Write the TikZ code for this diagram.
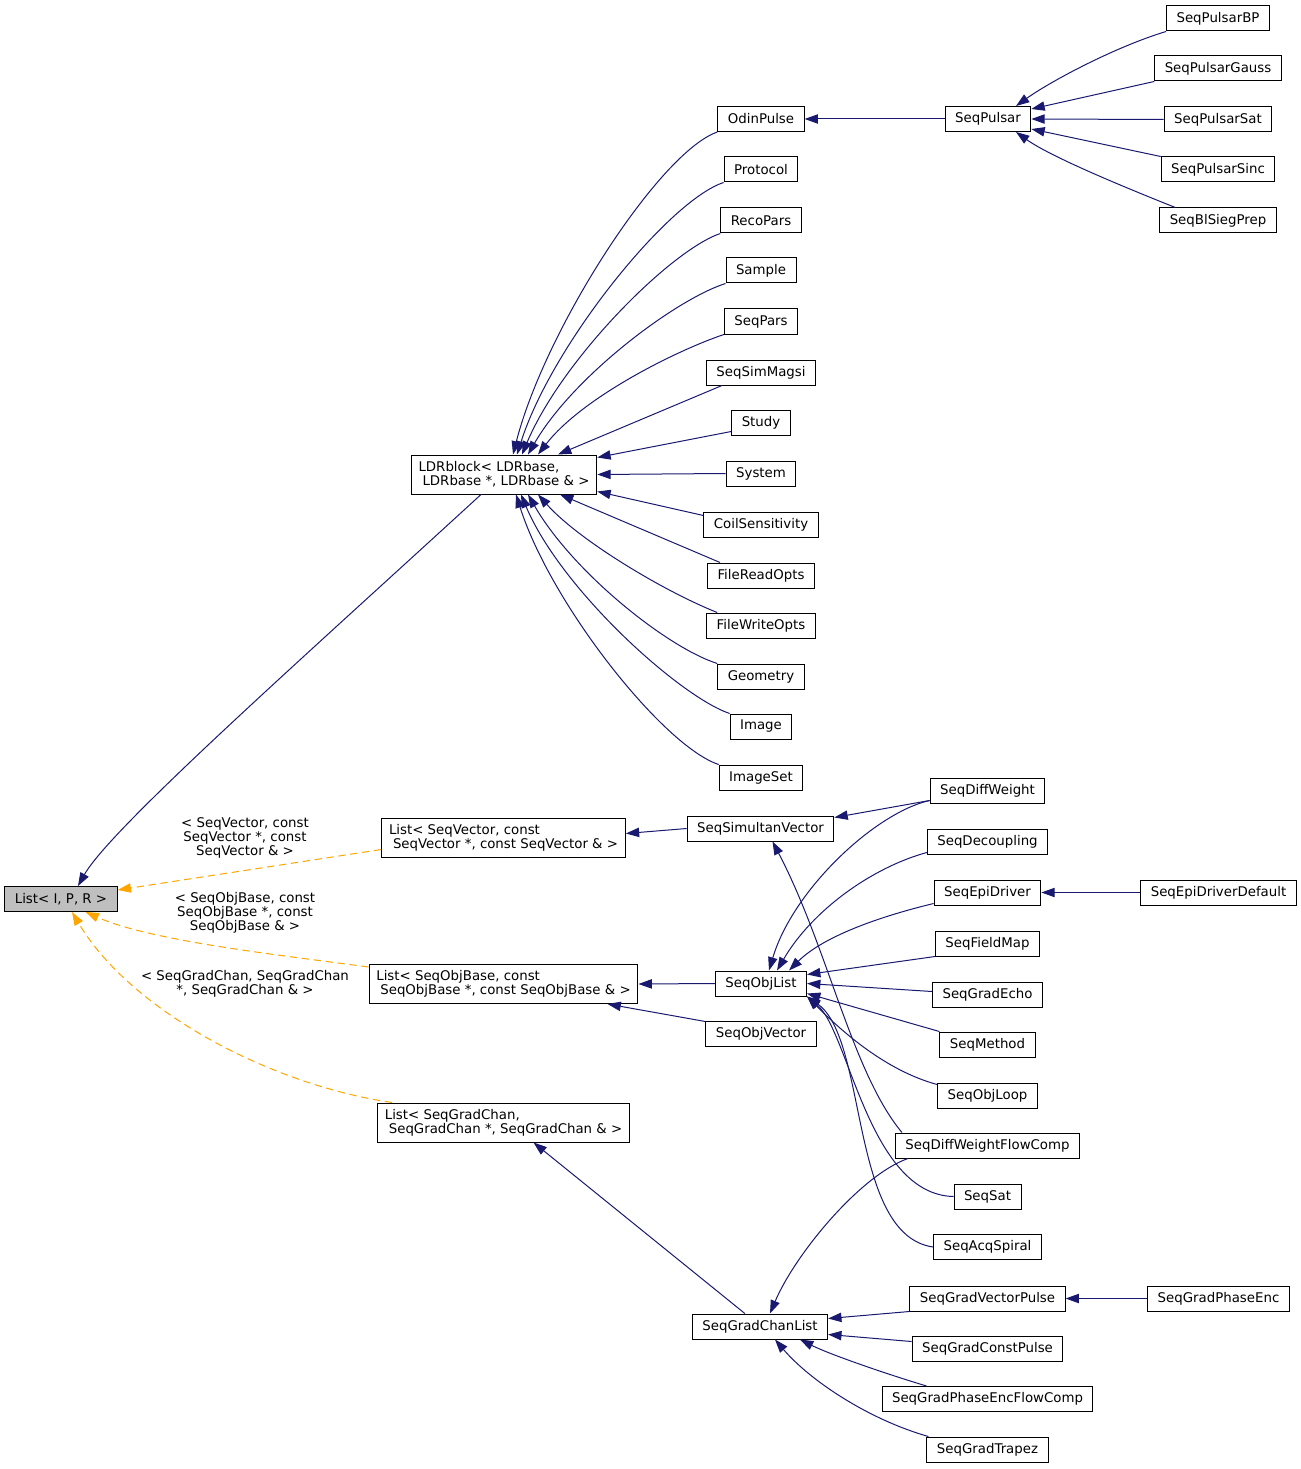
\documentclass[tikz,border=0pt]{standalone}
\usepackage{fontspec}
\setmainfont{DejaVu Sans}
\usetikzlibrary{arrows.meta,calc}

\definecolor{edgeblue}{HTML}{191970}
\definecolor{edgeorange}{HTML}{FFA500}
\definecolor{basegray}{HTML}{BFBFBF}

\begin{document}
\begin{tikzpicture}[x=0.75pt,y=-0.75pt,
		cls/.style={draw=black,line width=0.75pt,fill=white,font=\fontsize{10}{10.5}\selectfont,
			inner xsep=7.5pt,inner ysep=2pt,minimum height=18.75pt},
		cls2/.style={cls,align=left,inner xsep=5.5pt,minimum height=29.25pt},
		lbl/.style={font=\fontsize{10}{10.5}\selectfont,align=center,inner sep=0pt},
		inh/.style={draw=edgeblue,line width=0.75pt,-{Triangle[length=10pt,width=7pt]}},
		tmpl/.style={inh,draw=edgeorange,dash pattern=on 5.5pt off 3.5pt}]
	\useasboundingbox (0,0) rectangle (1301,1469);
	% templates
	\node[cls,fill=basegray] (listipr) at (61,899) {List< I, P, R >};
	\node[cls2] (ldrblock) at (504,474.5) {LDRblock< LDRbase,\\\hspace*{3pt}LDRbase *, LDRbase \& >};
	\node[cls2] (listvec) at (503.5,837.5) {List< SeqVector, const\\\hspace*{3pt}SeqVector *, const SeqVector \& >};
	\node[cls2] (listobj) at (503.5,984) {List< SeqObjBase, const\\\hspace*{3pt}SeqObjBase *, const SeqObjBase \& >};
	\node[cls2] (listgrad) at (503.5,1122.5) {List< SeqGradChan,\\\hspace*{3pt}SeqGradChan *, SeqGradChan \& >};
	% second column
	\node[cls] (odinpulse) at (761,119) {OdinPulse};
	\node[cls] (protocol) at (761,169.5) {Protocol};
	\node[cls] (recopars) at (761,220.5) {RecoPars};
	\node[cls] (sample) at (761,270.5) {Sample};
	\node[cls] (seqpars) at (761,321.5) {SeqPars};
	\node[cls] (simmagsi) at (761,372.5) {SeqSimMagsi};
	\node[cls] (study) at (761,422.5) {Study};
	\node[cls] (system) at (761,473.5) {System};
	\node[cls] (coilsens) at (761,524.5) {CoilSensitivity};
	\node[cls] (filereadopts) at (761,575.5) {FileReadOpts};
	\node[cls] (filewriteopts) at (761,625.5) {FileWriteOpts};
	\node[cls] (geometry) at (761,676.5) {Geometry};
	\node[cls] (image) at (761,726.5) {Image};
	\node[cls] (imageset) at (761,777.5) {ImageSet};
	\node[cls] (simvec) at (760.5,828.5) {SeqSimultanVector};
	\node[cls] (objlist) at (761,983.5) {SeqObjList};
	\node[cls] (objvector) at (761,1033.5) {SeqObjVector};
	\node[cls] (gradchanlist) at (760,1326.5) {SeqGradChanList};
	% third column
	\node[cls] (pulsar) at (988,119) {SeqPulsar};
	\node[cls] (diffweight) at (987.5,790.5) {SeqDiffWeight};
	\node[cls] (decoupling) at (987.5,841.5) {SeqDecoupling};
	\node[cls] (epidriver) at (987.5,892.5) {SeqEpiDriver};
	\node[cls] (fieldmap) at (987.5,943.5) {SeqFieldMap};
	\node[cls] (gradecho) at (987.5,994.5) {SeqGradEcho};
	\node[cls] (method) at (987.5,1044.5) {SeqMethod};
	\node[cls] (objloop) at (987.5,1095.5) {SeqObjLoop};
	\node[cls] (dwflowcomp) at (987.5,1145.5) {SeqDiffWeightFlowComp};
	\node[cls] (seqsat) at (987.5,1196.5) {SeqSat};
	\node[cls] (acqspiral) at (987.5,1247) {SeqAcqSpiral};
	\node[cls] (gradvecpulse) at (987.5,1298.5) {SeqGradVectorPulse};
	\node[cls] (gradconstpulse) at (987.5,1348.5) {SeqGradConstPulse};
	\node[cls] (gradpeflowcomp) at (987.5,1399) {SeqGradPhaseEncFlowComp};
	\node[cls] (gradtrapez) at (987.5,1449.5) {SeqGradTrapez};
	% fourth column
	\node[cls] (pulsarbp) at (1218,18.5) {SeqPulsarBP};
	\node[cls] (pulsargauss) at (1218,68.5) {SeqPulsarGauss};
	\node[cls] (pulsarsat) at (1218,119.5) {SeqPulsarSat};
	\node[cls] (pulsarsinc) at (1218,169.5) {SeqPulsarSinc};
	\node[cls] (blsiegprep) at (1218,220.5) {SeqBlSiegPrep};
	\node[cls] (epidriverdefault) at (1218.5,892.5) {SeqEpiDriverDefault};
	\node[cls] (gradphaseenc) at (1218.5,1298.5) {SeqGradPhaseEnc};
	% template labels
	\node[lbl] (labvec) at (245,838) {< SeqVector, const\\SeqVector *, const\\SeqVector \& >};
	\node[lbl] (labobj) at (245,913) {< SeqObjBase, const\\SeqObjBase *, const\\SeqObjBase \& >};
	\node[lbl] (labgrad) at (245,983.5) {< SeqGradChan, SeqGradChan\\*, SeqGradChan \& >};

	% inheritance into List< I, P, R >
	\draw[inh] ($(ldrblock.south)+(-23,0)$) .. controls +(-181,166) and +(32,-57) .. ($(listipr.north)+(17,0)$);
	\draw[tmpl] ($(listvec.west)+(0,12)$) -- ($(listipr.east)+(0,-9)$);
	\draw[tmpl] ($(listobj.north west)+(0,3)$) .. controls +(-89,-12) and +(65,29) .. ($(listipr.south east)+(-32,0)$);
	\draw[tmpl] ($(listgrad.north west)+(15,0)$) .. controls +(-123,-18) and +(58,98) .. ($(listipr.south)+(11,0)$);

	% LDRblock
	\draw[inh] (odinpulse.south west) .. controls +(-58,20) and +(32,-125) .. ($(ldrblock.north)+(9,0)$);
	\draw[inh] (protocol.south west) .. controls +(-55,18) and +(35,-110) .. ($(ldrblock.north)+(13,0)$);
	\draw[inh] (recopars.south west) .. controls +(-50,17) and +(40,-95) .. ($(ldrblock.north)+(18,0)$);
	\draw[inh] (sample.south west) .. controls +(-50,16) and +(45,-78) .. ($(ldrblock.north)+(24,0)$);
	\draw[inh] (seqpars.south west) .. controls +(-45,15) and +(45,-58) .. ($(ldrblock.north)+(34,0)$);
	\draw[inh] ($(simmagsi.south west)+(16,0)$) -- ($(ldrblock.north)+(54,0)$);
	\draw[inh] ($(study.south west)+(0,-4)$) -- ($(ldrblock.north east)+(0,3)$);
	\draw[inh] (system.west) -- (ldrblock.east);
	\draw[inh] ($(coilsens.north west)+(0,4)$) -- ($(ldrblock.south east)+(0,-3)$);
	\draw[inh] ($(filereadopts.north west)+(13,0)$) -- ($(ldrblock.south)+(56,0)$);
	\draw[inh] ($(filewriteopts.north west)+(11,0)$) .. controls +(-55,-22) and +(40,45) .. ($(ldrblock.south)+(34,0)$);
	\draw[inh] (geometry.north west) .. controls +(-50,-16) and +(45,78) .. ($(ldrblock.south)+(24,0)$);
	\draw[inh] (image.north west) .. controls +(-50,-17) and +(40,95) .. ($(ldrblock.south)+(17,0)$);
	\draw[inh] (imageset.north west) .. controls +(-55,-18) and +(35,110) .. ($(ldrblock.south)+(12,0)$);

	% SeqPulsar
	\draw[inh] (pulsar.west) -- (odinpulse.east);
	\draw[inh] (pulsarbp.south west) .. controls +(-50,15) and +(35,-25) .. ($(pulsar.north)+(28,0)$);
	\draw[inh] (pulsargauss.south west) -- ($(pulsar.north east)+(0,3)$);
	\draw[inh] (pulsarsat.west) -- (pulsar.east);
	\draw[inh] (pulsarsinc.north west) -- ($(pulsar.south east)+(0,-3)$);
	\draw[inh] ($(blsiegprep.north west)+(16,0)$) .. controls +(-50,-20) and +(35,25) .. ($(pulsar.south)+(28,0)$);

	% List< SeqVector ... > and List< SeqObjBase ... >
	\draw[inh] (simvec.west) -- ($(listvec.east)+(0,-4)$);
	\draw[inh] ($(diffweight.south west)+(0,-3)$) -- ($(simvec.north east)+(0,2)$);
	\draw[inh] ($(dwflowcomp.north west)+(7,0)$) .. controls +(-50,-60) and +(55,105) .. ($(simvec.south)+(12,0)$);
	\draw[inh] (objlist.west) -- (listobj.east);
	\draw[inh] ($(objvector.north west)+(0,1)$) -- ($(listobj.south east)+(-31,0)$);

	% SeqObjList
	\draw[inh] ($(diffweight.south west)+(0,-3)$) .. controls +(-54,12) and +(24,-81) .. ($(objlist.north)+(8,0)$);
	\draw[inh] ($(decoupling.south west)+(0,-2)$) .. controls +(-55,15) and +(35,-60) .. ($(objlist.north)+(16,0)$);
	\draw[inh] ($(epidriver.south west)+(0,-2)$) .. controls +(-50,12) and +(35,-35) .. ($(objlist.north)+(28,0)$);
	\draw[inh] (fieldmap.south west) -- ($(objlist.north east)+(0,4)$);
	\draw[inh] ($(gradecho.west)+(0,-3)$) -- (objlist.east);
	\draw[inh] (method.north west) -- ($(objlist.south east)+(0,-3)$);
	\draw[inh] ($(objloop.north west)+(0,2)$) .. controls +(-55,-15) and +(30,30) .. (objlist.south east);
	\draw[inh] (seqsat.west) .. controls +(-85,-2) and +(42,35) .. (objlist.south east);
	\draw[inh] (acqspiral.west) .. controls +(-84,-12) and +(61,43) .. (objlist.south east);
	\draw[inh] (epidriverdefault.west) -- (epidriver.east);

	% SeqGradChanList
	\draw[inh] ($(gradchanlist.north west)+(53,0)$) -- ($(listgrad.south)+(30,0)$);
	\draw[inh] ($(dwflowcomp.south west)+(13,0)$) .. controls +(-48,17) and +(25,-59) .. ($(gradchanlist.north)+(10,0)$);
	\draw[inh] (gradvecpulse.south west) -- ($(gradchanlist.north east)+(0,5)$);
	\draw[inh] ($(gradconstpulse.west)+(0,-7)$) -- ($(gradchanlist.south east)+(0,-5)$);
	\draw[inh] ($(gradpeflowcomp.north west)+(45,0)$) .. controls +(-40,-12) and +(30,15) .. ($(gradchanlist.south)+(40,0)$);
	\draw[inh] ($(gradtrapez.north west)+(2,0)$) .. controls +(-60,-17) and +(35,41) .. ($(gradchanlist.south)+(15,0)$);
	\draw[inh] (gradphaseenc.west) -- (gradvecpulse.east);
\end{tikzpicture}
\end{document}
